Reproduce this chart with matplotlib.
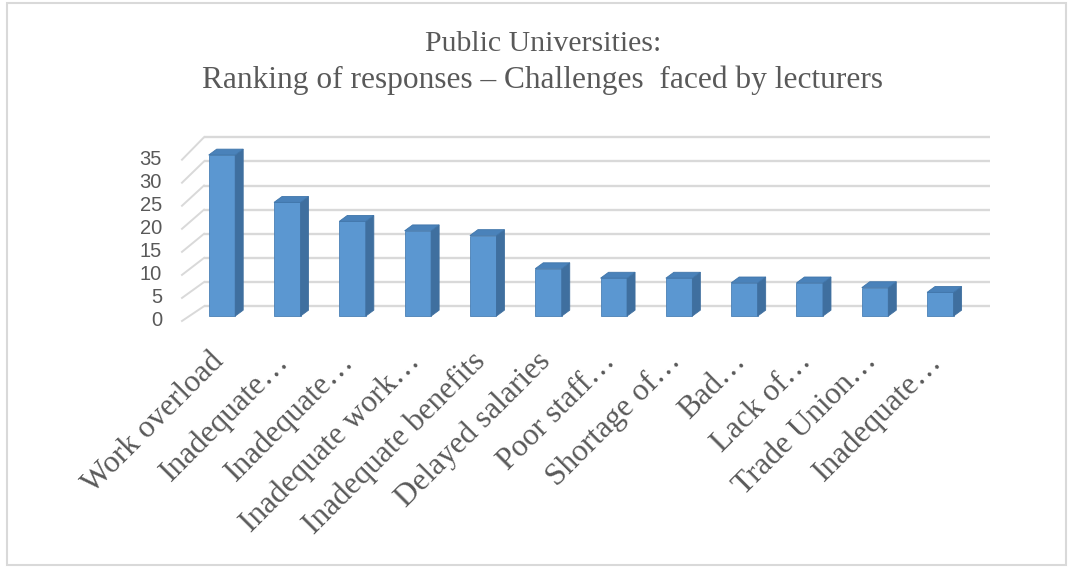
import matplotlib
matplotlib.use("Agg")
import matplotlib.pyplot as plt
from matplotlib.patches import Polygon, Rectangle
import matplotlib.transforms as mtransforms

categories = ["Work overload", "Inadequate\u2026", "Inadequate\u2026", "Inadequate work\u2026",
              "Inadequate benefits", "Delayed salaries", "Poor staff\u2026", "Shortage of\u2026",
              "Bad\u2026", "Lack of\u2026", "Trade Union\u2026", "Inadequate\u2026"]
values = [34, 24, 20, 18, 17, 10, 8, 8, 7, 7, 6, 5]
yticks = [0, 5, 10, 15, 20, 25, 30, 35]
title_line1 = "Public Universities:"
title_line2 = "Ranking of responses \u2013 Challenges  faced by lecturers"

W, H = 1073, 568
fig = plt.figure(figsize=(W / 100, H / 100), dpi=100)

# frame around chart
fig.patches.append(Rectangle((7 / W, 3 / H), (1066 - 7) / W, (565 - 3) / H,
                             transform=fig.transFigure, fill=False,
                             edgecolor="#d9d9d9", linewidth=1.5))

n = len(categories)
# bar plane mapping (pixels)
x0px, x1px = 189.3, 973.0
px_y = 4.82
y0px = 319.0
y35px = y0px - 35 * px_y
ax = fig.add_axes([x0px / W, 1 - y0px / H, (x1px - x0px) / W, (y0px - y35px) / H])
ax.set_xlim(-0.5, n - 0.5)
ax.set_ylim(0, 35)
for s in ax.spines.values():
    s.set_visible(False)
ax.patch.set_alpha(0)
px_x = (x1px - x0px) / n

def pxy(p):
    """pixel row -> data y"""
    return (y0px - p) / px_y

def pxx(p):
    """pixel column -> data x"""
    return -0.5 + (p - x0px) / px_x

# back wall gridlines and floor/side diagonals
grid_col = "#d9d9d9"
back0, back_scale = 309.0, 4.914
front0, front_scale = 324.0, 4.69
for t in yticks:
    yb = pxy(back0 - back_scale * t)
    yf = pxy(front0 - front_scale * t)
    ax.plot([pxx(204), pxx(990)], [yb, yb], color=grid_col, lw=1.7,
            clip_on=False, zorder=1, solid_capstyle="butt")
    ax.plot([pxx(182), pxx(204)], [yf, yb], color=grid_col, lw=1.4,
            clip_on=False, zorder=1)

# bars (pseudo 3-D)
bw = 26.5 / px_x
ddx = 8 / px_x
ddy = 6 / px_y
front_c = "#5b97d1"
side_c = "#3f6f9f"
top_c = "#4a82ba"
for i, v in enumerate(values):
    xl, xr = i - bw / 2, i + bw / 2
    ax.add_patch(Rectangle((xl, 0), bw, v, facecolor=front_c, edgecolor="#4a80b5",
                           lw=0.6, zorder=3, clip_on=False))
    ax.add_patch(Polygon([(xr, 0), (xr, v), (xr + ddx, v + ddy), (xr + ddx, ddy)],
                         closed=True, facecolor=side_c, edgecolor=side_c, lw=0.6,
                         zorder=3, clip_on=False))
    ax.add_patch(Polygon([(xl, v), (xr, v), (xr + ddx, v + ddy), (xl + ddx, v + ddy)],
                         closed=True, facecolor=top_c, edgecolor="#3f75aa", lw=0.6,
                         zorder=3, clip_on=False))

# y tick labels (front edge)
ax.set_yticks([pxy(322 - front_scale * t) for t in yticks])
ax.set_yticklabels([str(t) for t in yticks], fontsize=14.5, color="#595959",
                   family=["Liberation Sans", "DejaVu Sans"])
ax.tick_params(axis="y", length=0, pad=(x0px - 162) * 0.72)

# x tick labels
ax.set_xticks(range(n))
ax.set_xticklabels(categories, rotation=45, ha="right", va="top", rotation_mode="anchor",
                   fontsize=22.5, color="#595959", family=["Liberation Serif", "DejaVu Serif"])
ax.tick_params(axis="x", length=0, pad=20)
off = mtransforms.ScaledTranslation(-13 / 100, 0, fig.dpi_scale_trans)
for lab in ax.get_xticklabels():
    lab.set_transform(lab.get_transform() + off)

fig.text(543 / W, 1 - 44 / H, title_line1, ha="center", va="center", fontsize=21.5,
         color="#595959", family=["Liberation Serif", "DejaVu Serif"])
fig.text(543 / W, 1 - 80 / H, title_line2, ha="center", va="center", fontsize=22.6,
         color="#595959", family=["Liberation Serif", "DejaVu Serif"])

fig.savefig("out.png", dpi=100)
